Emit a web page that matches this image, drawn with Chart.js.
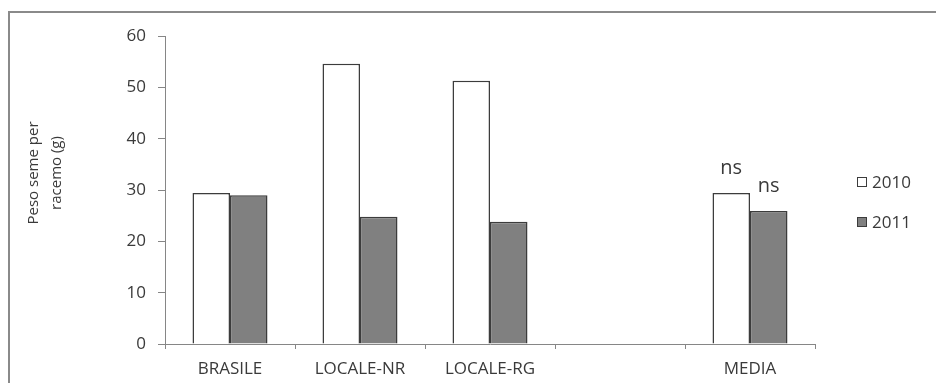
<!DOCTYPE html>
<html>
<head>
<meta charset="utf-8">
<script src="https://cdn.jsdelivr.net/npm/chart.js@4.4.1/dist/chart.umd.min.js"></script>
<style>
  html, body { margin: 0; padding: 0; background: #fff; overflow: hidden; }
  #wrap { position: absolute; left: 0; top: 0; width: 936px; height: 383px; }
  #frame { position: absolute; left: 8px; top: 11px; width: 1000px; height: 500px; border: 2px solid #8a8a8a; box-sizing: border-box; pointer-events: none; }
</style>
</head>
<body>
<div id="wrap"><canvas id="chart" width="936" height="383"></canvas></div>
<div id="frame"></div>
<script>
// --- data ---
const categories = ['BRASILE', 'LOCALE-NR', 'LOCALE-RG', '', 'MEDIA'];
const seriesNames = ['2010', '2011'];
const values2010 = [29.4, 54.6, 51.3, null, 29.4];
const values2011 = [29.0, 24.8, 23.8, null, 25.9];
const notes2010 = ['', '', '', '', 'ns'];
const notes2011 = ['', '', '', '', 'ns'];
const yTicks = [0, 10, 20, 30, 40, 50, 60];
const yTitle = ['Peso seme per', 'racemo (g)'];

const FONT = '"Open Sans", "Liberation Sans", sans-serif';
const axisGray = '#868686';
const textColor = '#3a3a3a';
const edgeColor = '#3c3c3c';

// "ns" labels above the MEDIA bars, custom legend and y title
const extras = {
    id: 'extras',
    afterDatasetsDraw(chart) {
        const ctx = chart.ctx;
        const notes = [notes2010, notes2011];
        ctx.save();
        ctx.fillStyle = textColor;
        ctx.font = '20px ' + FONT;
        ctx.textAlign = 'center';
        ctx.textBaseline = 'alphabetic';
        notes.forEach((arr, di) => {
            const meta = chart.getDatasetMeta(di);
            arr.forEach((t, i) => {
                if (!t) return;
                const bar = meta.data[i];
                ctx.fillText(t, bar.x, bar.y - 19);
            });
        });

        // legend
        ctx.font = '17px ' + FONT;
        ctx.textAlign = 'left';
        ctx.textBaseline = 'middle';
        chart.data.datasets.forEach((ds, i) => {
            const y = 182 + i * 40;
            ctx.fillStyle = ds.backgroundColor;
            ctx.fillRect(857, y - 5, 10, 10);
            ctx.strokeStyle = edgeColor;
            ctx.lineWidth = 1;
            ctx.strokeRect(857.5, y - 4.5, 9, 9);
            ctx.fillStyle = textColor;
            ctx.fillText(ds.label, 872, y + 1);
        });

        // y axis title
        ctx.translate(46, 173);
        ctx.rotate(-Math.PI / 2);
        ctx.font = '15px ' + FONT;
        ctx.textAlign = 'center';
        ctx.textBaseline = 'middle';
        ctx.fillText(yTitle[0], 0, -12);
        ctx.fillText(yTitle[1], 0, 11);
        ctx.restore();
    }
};

new Chart(document.getElementById('chart'), {
    type: 'bar',
    data: {
        labels: categories,
        datasets: [
            {
                label: seriesNames[0],
                data: values2010,
                backgroundColor: '#ffffff',
                borderColor: edgeColor,
                borderWidth: 1.5
            },
            {
                label: seriesNames[1],
                data: values2011,
                backgroundColor: '#808080',
                borderColor: edgeColor,
                borderWidth: 1.5
            }
        ]
    },
    options: {
        responsive: false,
        animation: false,
        layout: { padding: { left: 0, right: 121, top: 36, bottom: 0 } },
        datasets: {
            bar: { categoryPercentage: 0.577, barPercentage: 1.0 }
        },
        plugins: {
            legend: { display: false },
            tooltip: { enabled: false }
        },
        scales: {
            x: {
                afterFit: (s) => { s.height = 39; },
                grid: {
                    offset: true,
                    drawOnChartArea: false,
                    drawTicks: true,
                    tickLength: 5,
                    color: axisGray
                },
                border: { color: axisGray, width: 1 },
                ticks: {
                    color: textColor,
                    font: { family: FONT, size: 17 },
                    padding: 10,
                    maxRotation: 0
                }
            },
            y: {
                min: 0,
                max: 60,
                afterFit: (s) => { s.width = 165; },
                afterBuildTicks: (s) => { s.ticks = yTicks.map(v => ({ value: v })); },
                grid: {
                    drawOnChartArea: false,
                    drawTicks: true,
                    tickLength: 7,
                    color: axisGray
                },
                border: { color: axisGray, width: 1 },
                ticks: {
                    color: textColor,
                    font: { family: FONT, size: 17 },
                    padding: 12
                }
            }
        }
    },
    plugins: [extras]
});
</script>
</body>
</html>
